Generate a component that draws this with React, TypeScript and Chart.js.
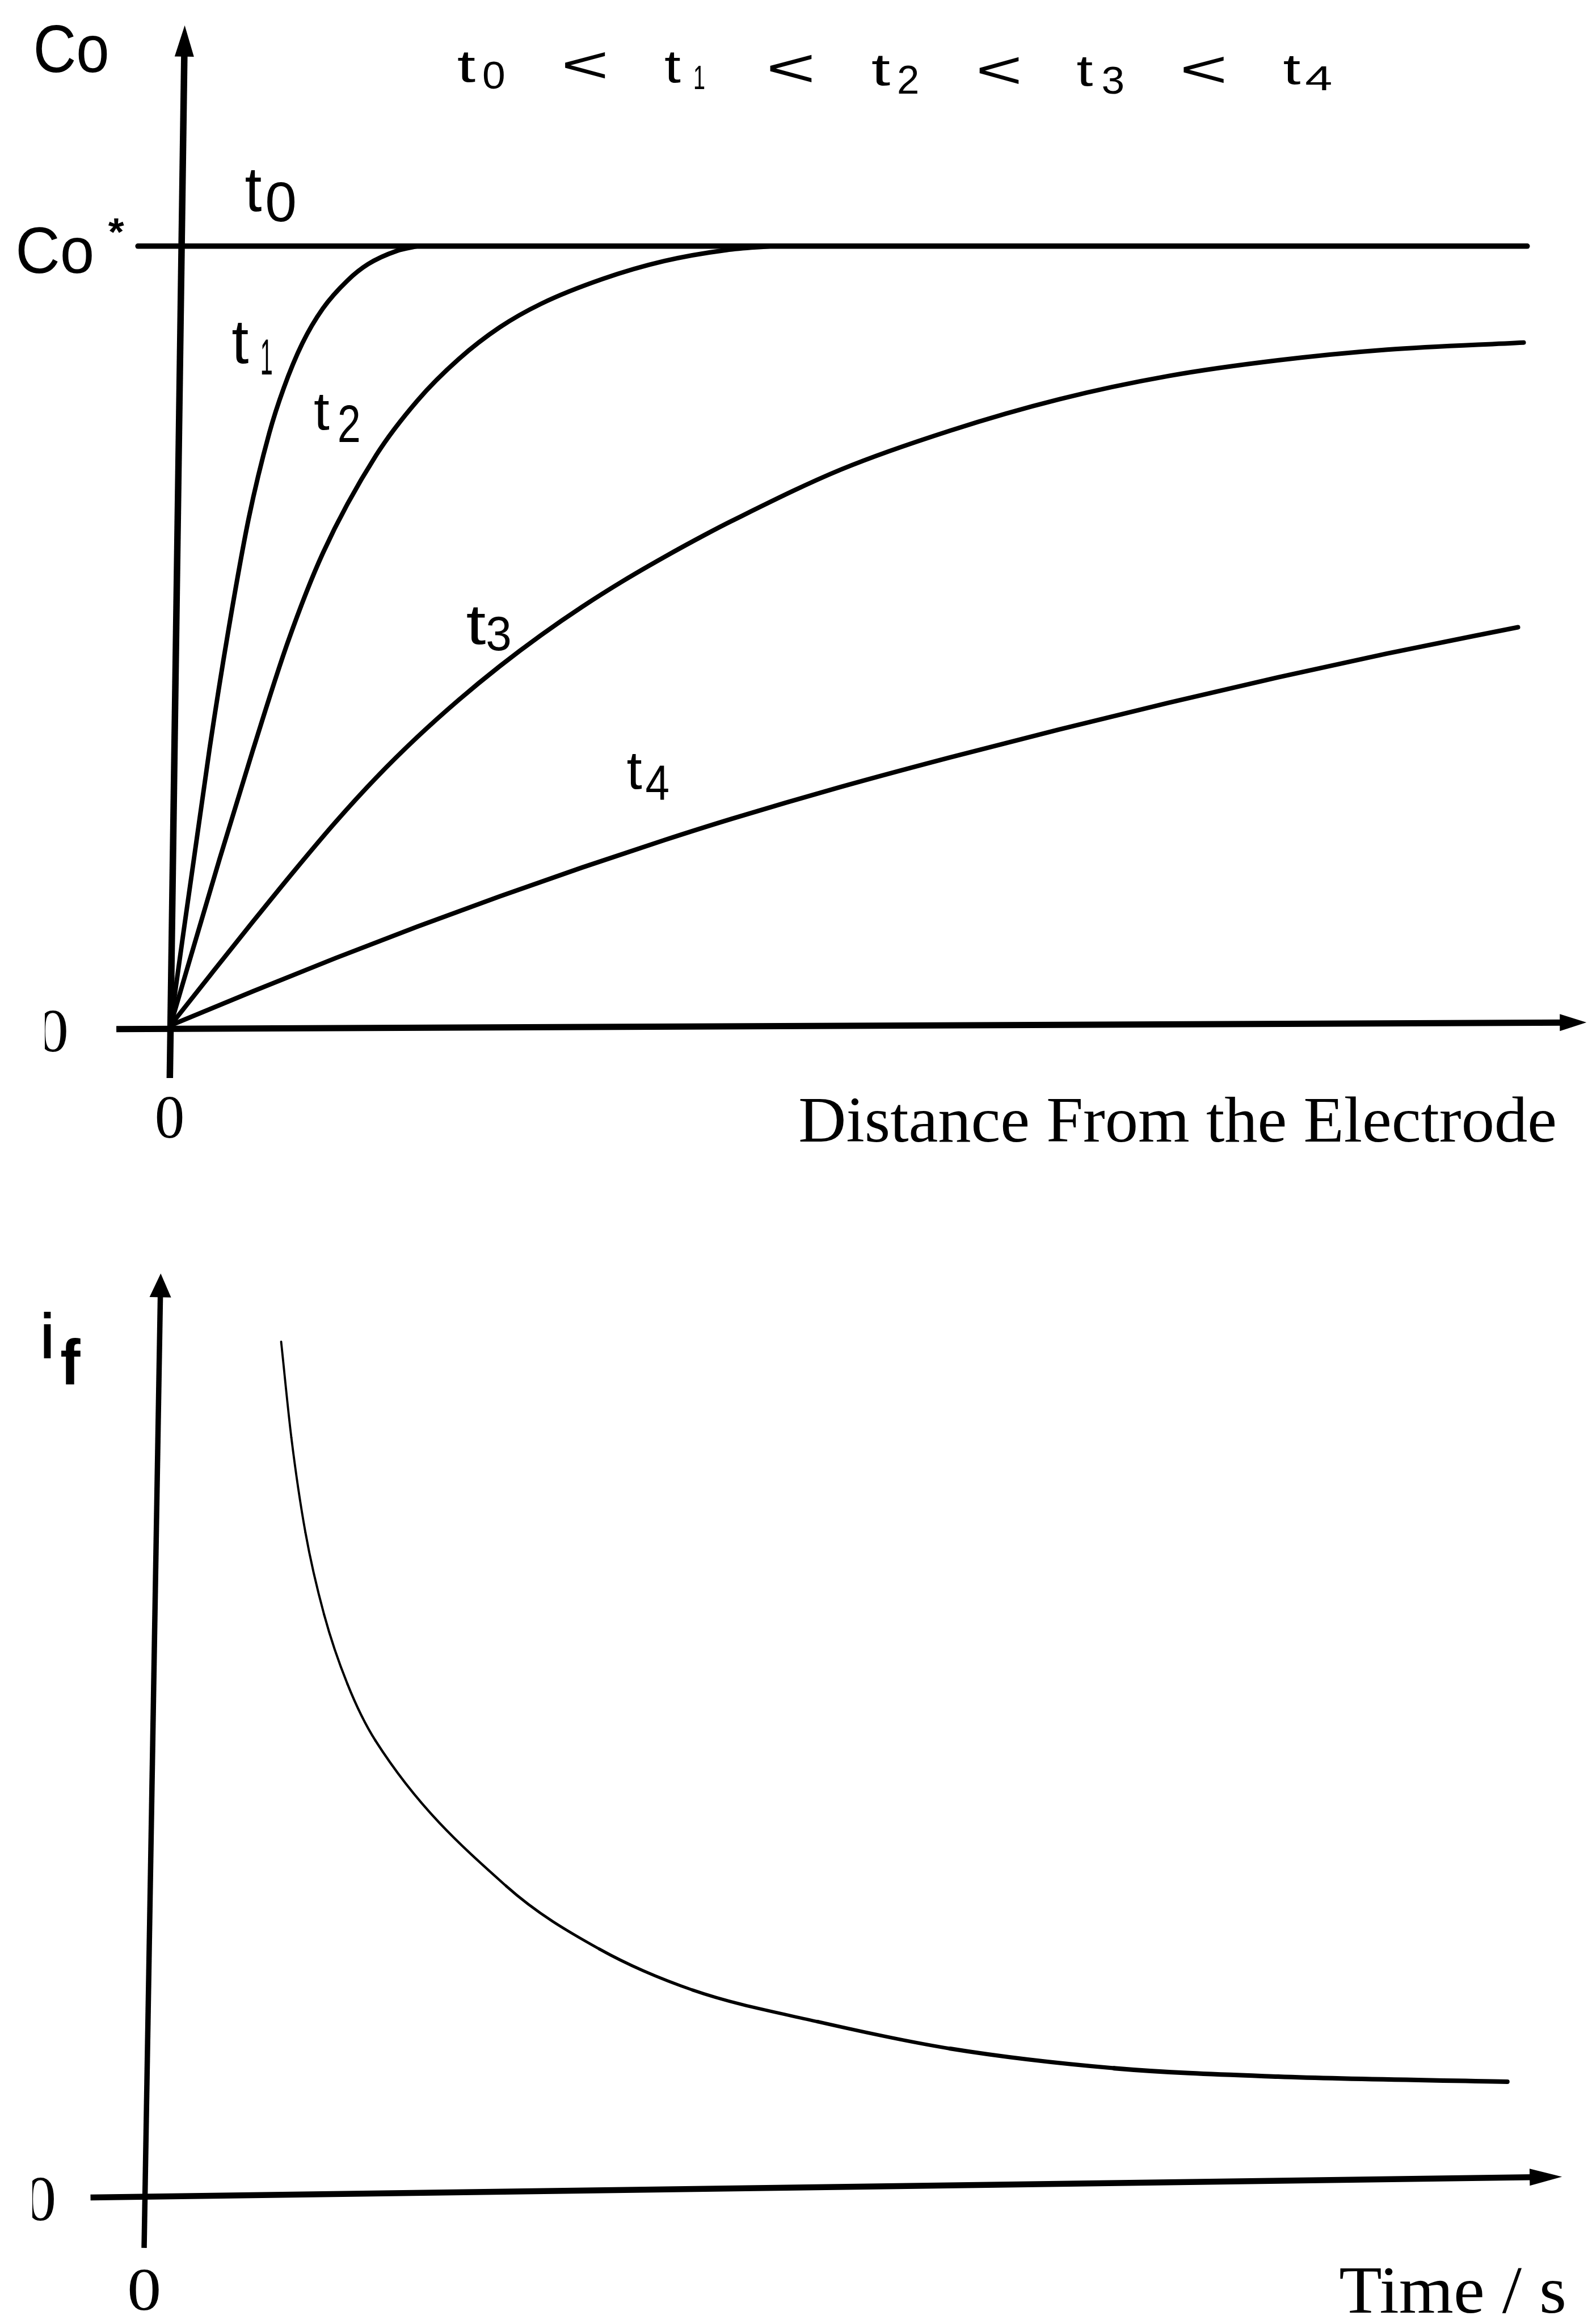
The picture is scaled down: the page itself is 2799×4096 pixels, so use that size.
import React, { useEffect, useRef } from "react";
import { Chart, registerables } from "chart.js";

Chart.register(...registerables);

// ---- Concentration profiles (distance as fraction of plotted range, C / Co*) ----
const distanceT0 = [-0.024, 1.0];
const concT0 = [1, 1];

const distanceT1 = [0, 0.0288, 0.0425, 0.0577, 0.0728, 0.0835, 0.0971, 0.1123, 0.1305, 0.1457, 0.1669, 0.182];
const concT1 = [0, 0.355, 0.505, 0.651, 0.76, 0.818, 0.875, 0.92, 0.956, 0.977, 0.994, 1.0];

const distanceT2 = [0, 0.0361, 0.0607, 0.0865, 0.1123, 0.1517, 0.1821, 0.2124, 0.2428, 0.2731, 0.3187, 0.3642, 0.4097, 0.443];
const concT2 = [0, 0.213, 0.353, 0.492, 0.606, 0.732, 0.802, 0.855, 0.896, 0.926, 0.958, 0.981, 0.995, 1.0];

const distanceT3 = [0, 0.0303, 0.0607, 0.091, 0.1214, 0.1517, 0.1821, 0.2124, 0.2428, 0.2731, 0.3035, 0.3338, 0.3642, 0.3945, 0.4137, 0.4941, 0.5747, 0.6552, 0.7357, 0.8162, 0.8967, 0.9974];
const concT3 = [0, 0.0667, 0.133, 0.1978, 0.2604, 0.318, 0.3703, 0.4176, 0.4611, 0.5008, 0.5373, 0.5706, 0.6013, 0.6301, 0.6474, 0.7133, 0.7633, 0.8036, 0.8334, 0.8535, 0.8672, 0.8763];

const distanceT4 = [0, 0.0607, 0.1214, 0.1821, 0.2428, 0.3035, 0.3642, 0.4137, 0.4941, 0.5747, 0.6552, 0.7357, 0.8162, 0.8967, 0.9932];
const concT4 = [0, 0.0437, 0.0862, 0.1269, 0.1657, 0.2027, 0.2379, 0.2651, 0.3061, 0.344, 0.3798, 0.414, 0.4466, 0.4772, 0.511];

// ---- Faradaic current decay (time and current in relative units) ----
const timeValues = [0.1007, 0.1082, 0.1185, 0.1322, 0.1493, 0.1699, 0.2657, 0.3341, 0.4026, 0.4942, 0.5914, 0.7116, 0.8318, 1.0];
const currentValues = [1.0, 0.8883, 0.778, 0.6823, 0.6015, 0.5354, 0.3662, 0.2928, 0.245, 0.2082, 0.1768, 0.154, 0.1442, 0.1383];

// ---- Hand-drawn axis endpoints, in data units ----
const distanceAxisX = [-0.0399, 1.0437];
const distanceAxisY = [-0.0048, 0.0038];
const concAxisX = [-0.0005, 0.0105];
const concAxisY = [-0.0675, 1.2833];

const timeAxisX = [-0.0391, 1.0401];
const timeAxisY = [0.0035, 0.0276];
const currentAxisX = [0.0002, 0.0124];
const currentAxisY = [-0.0552, 1.0794];

const SANS = '"Liberation Sans", Arial, sans-serif';
const SERIF = '"Liberation Serif", "Times New Roman", serif';

type Label = { text: string; x: number; y: number; w: number; h: number; font: string; clipLeft?: number };

// Text is fitted to its ink box so the lettering keeps the drawn proportions.
function fitText(ctx: CanvasRenderingContext2D, l: Label) {
  ctx.save();
  ctx.font = l.font;
  ctx.textAlign = "left";
  ctx.textBaseline = "alphabetic";
  const m = ctx.measureText(l.text);
  const inkW = m.actualBoundingBoxLeft + m.actualBoundingBoxRight;
  const inkH = m.actualBoundingBoxAscent + m.actualBoundingBoxDescent;
  if (l.clipLeft !== undefined) {
    ctx.beginPath();
    ctx.rect(l.clipLeft, l.y - 20, l.x + l.w - l.clipLeft + 20, l.h + 40);
    ctx.clip();
  }
  ctx.translate(l.x, l.y);
  ctx.scale(l.w / inkW, l.h / inkH);
  ctx.fillStyle = "#000";
  ctx.fillText(l.text, m.actualBoundingBoxLeft, m.actualBoundingBoxAscent);
  ctx.restore();
}

function drawArrowAxis(
  ctx: CanvasRenderingContext2D,
  x0: number, y0: number, x1: number, y1: number,
  width: number, len: number, half: number
) {
  const a = Math.atan2(y1 - y0, x1 - x0);
  const c = Math.cos(a), s = Math.sin(a);
  ctx.save();
  ctx.strokeStyle = "#000";
  ctx.fillStyle = "#000";
  ctx.lineWidth = width;
  ctx.lineCap = "butt";
  ctx.beginPath();
  ctx.moveTo(x0, y0);
  ctx.lineTo(x1 - c * len * 0.6, y1 - s * len * 0.6);
  ctx.stroke();
  ctx.beginPath();
  ctx.moveTo(x1, y1);
  ctx.lineTo(x1 - c * len + s * half, y1 - s * len - c * half);
  ctx.lineTo(x1 - c * len - s * half, y1 - s * len + c * half);
  ctx.closePath();
  ctx.fill();
  ctx.restore();
}

const sub = (size: number) => `${size}px ${SANS}`;

const profileLabels: Label[] = [
  { text: "Co", x: 63.8, y: 42.6, w: 124.9, h: 85.2, font: `118px ${SANS}` },
  { text: "Co", x: 31.9, y: 399.3, w: 130.7, h: 82.3, font: `115px ${SANS}` },
  { text: "*", x: 190.8, y: 383.1, w: 28.7, h: 26.7, font: `bold 70px ${SANS}` },
  // ordering of the profile times
  { text: "t", x: 807.3, y: 92.8, w: 31.4, h: 52.3, font: sub(78) },
  { text: "0", x: 852.0, y: 107.1, w: 36.6, h: 49.7, font: sub(70) },
  { text: "<", x: 994.4, y: 91.7, w: 72.1, h: 46.8, font: sub(80) },
  { text: "t", x: 1172.4, y: 92.8, w: 28.0, h: 53.3, font: sub(78) },
  { text: "1", x: 1224.4, y: 116.6, w: 17.0, h: 40.0, font: sub(60) },
  { text: "<", x: 1355.8, y: 96.7, w: 74.8, h: 48.3, font: sub(80) },
  { text: "t", x: 1537.2, y: 99.3, w: 32.4, h: 51.5, font: sub(78) },
  { text: "2", x: 1584.0, y: 114.7, w: 33.4, h: 50.2, font: sub(70) },
  { text: "<", x: 1725.1, y: 100.4, w: 70.6, h: 47.6, font: sub(80) },
  { text: "t", x: 1898.9, y: 100.4, w: 28.0, h: 51.2, font: sub(78) },
  { text: "3", x: 1943.6, y: 115.5, w: 35.5, h: 50.4, font: sub(70) },
  { text: "<", x: 2084.7, y: 99.3, w: 72.4, h: 46.8, font: sub(80) },
  { text: "t", x: 2262.9, y: 98.5, w: 30.0, h: 50.2, font: sub(78) },
  { text: "4", x: 2301.6, y: 117.3, w: 44.7, h: 41.8, font: sub(62) },
  // curve labels
  { text: "t", x: 432.5, y: 300.5, w: 29.0, h: 72.2, font: sub(104) },
  { text: "0", x: 470.4, y: 321.4, w: 49.1, h: 69.8, font: sub(98) },
  { text: "t", x: 409.3, y: 569.5, w: 29.2, h: 71.6, font: sub(104) },
  { text: "1", x: 461.5, y: 598.5, w: 17.5, h: 61.4, font: sub(86) },
  { text: "t", x: 554.0, y: 695.2, w: 26.1, h: 62.7, font: sub(92) },
  { text: "2", x: 597.9, y: 713.5, w: 34.5, h: 65.3, font: sub(92) },
  { text: "t", x: 822.7, y: 1070.4, w: 32.7, h: 66.1, font: sub(96) },
  { text: "3", x: 859.0, y: 1085.9, w: 40.0, h: 60.9, font: sub(86) },
  { text: "t", x: 1105.5, y: 1329.7, w: 25.6, h: 60.9, font: sub(88) },
  { text: "4", x: 1138.4, y: 1350.1, w: 40.0, h: 60.9, font: sub(86) },
  // axis ticks and title
  { text: "0", x: 70.0, y: 1779.7, w: 46.8, h: 74.0, font: `106px ${SERIF}`, clipLeft: 79.0 },
  { text: "0", x: 276.8, y: 1933.1, w: 44.6, h: 72.7, font: `106px ${SERIF}` },
  { text: "Distance From the Electrode", x: 1410.4, y: 1931.5, w: 1329.7, h: 81.6, font: `112px ${SERIF}` },
];

const currentLabels: Label[] = [
  { text: "i", x: 76.8, y: 211.6, w: 13.1, h: 82.3, font: `bold 112px ${SANS}` },
  { text: "f", x: 107.1, y: 257.3, w: 35.0, h: 82.3, font: `bold 112px ${SANS}` },
  { text: "0", x: 48.1, y: 1738.5, w: 46.8, h: 75.8, font: `106px ${SERIF}`, clipLeft: 57.0 },
  { text: "0", x: 228.7, y: 1900.0, w: 50.9, h: 71.7, font: `106px ${SERIF}` },
  { text: "Time / s", x: 2362.5, y: 1896.4, w: 394.6, h: 80.5, font: `112px ${SERIF}` },
];

function axesPlugin(
  id: string,
  hAxis: [number[], number[]],
  vAxis: [number[], number[]],
  widths: [number, number],
  hArrow: [number, number],
  vArrow: [number, number],
  labels: Label[]
) {
  return {
    id,
    afterDraw(chart: any) {
      const ctx: CanvasRenderingContext2D = chart.ctx;
      const sx = chart.scales.x, sy = chart.scales.y;
      const px = (v: number) => sx.getPixelForValue(v);
      const py = (v: number) => sy.getPixelForValue(v);
      drawArrowAxis(ctx, px(hAxis[0][0]), py(hAxis[1][0]), px(hAxis[0][1]), py(hAxis[1][1]), widths[0], hArrow[0], hArrow[1]);
      drawArrowAxis(ctx, px(vAxis[0][0]), py(vAxis[1][0]), px(vAxis[0][1]), py(vAxis[1][1]), widths[1], vArrow[0], vArrow[1]);
      labels.forEach((l) => fitText(ctx, l));
    },
  };
}

const pts = (xs: number[], ys: number[]) => xs.map((x, i) => ({ x, y: ys[i] }));

const commonOptions = (padding: any, xr: [number, number], yr: [number, number]) => ({
  animation: false as const,
  responsive: false,
  maintainAspectRatio: false,
  devicePixelRatio: 1,
  layout: { padding },
  events: [],
  plugins: { legend: { display: false }, tooltip: { enabled: false } },
  scales: {
    x: { type: "linear" as const, min: xr[0], max: xr[1], display: false },
    y: { type: "linear" as const, min: yr[0], max: yr[1], display: false },
  },
  elements: {
    point: { radius: 0 },
    line: { borderColor: "#000", cubicInterpolationMode: "monotone" as const, borderCapStyle: "round" as const, borderJoinStyle: "round" as const },
  },
});

export default function App() {
  const topRef = useRef<HTMLCanvasElement>(null);
  const bottomRef = useRef<HTMLCanvasElement>(null);

  useEffect(() => {
    const profiles = new Chart(topRef.current!, {
      type: "line",
      data: {
        datasets: [
          { label: "t0", data: pts(distanceT0, concT0), borderWidth: 9.5, fill: false },
          { label: "t1", data: pts(distanceT1, concT1), borderWidth: 8, fill: false },
          { label: "t2", data: pts(distanceT2, concT2), borderWidth: 8, fill: false },
          { label: "t3", data: pts(distanceT3, concT3), borderWidth: 8, fill: false },
          { label: "t4", data: pts(distanceT4, concT4), borderWidth: 8, fill: false },
        ],
      },
      options: commonOptions({ left: 61.37, right: 11.55, top: 21.84, bottom: 155.4 }, [-0.1, 1.04], [-0.1, 1.3]) as any,
      plugins: [
        axesPlugin("profileAxes", [distanceAxisX, distanceAxisY], [concAxisX, concAxisY], [11, 11.5], [47, 15], [55, 17], profileLabels),
      ],
    });

    const current = new Chart(bottomRef.current!, {
      type: "line",
      data: {
        datasets: [
          {
            label: "i_f",
            data: pts(timeValues, currentValues),
            borderWidth: 6,
            fill: false,
            segment: {
              borderWidth: (c: any) => 3.8 + 4.2 * Math.min(1, Math.max(0, (c.p0.parsed.x - 0.1) / 0.6)),
            },
          } as any,
        ],
      },
      options: commonOptions({ left: 13.17, right: 22.03, top: 113.2, bottom: 66.3 }, [-0.1, 1.05], [-0.1, 1.1]) as any,
      plugins: [
        axesPlugin("currentAxes", [timeAxisX, timeAxisY], [currentAxisX, currentAxisY], [10.5, 9.5], [57, 15], [42, 19], currentLabels),
      ],
    });

    return () => {
      profiles.destroy();
      current.destroy();
    };
  }, []);

  return (
    <div style={{ position: "absolute", left: 0, top: 0, width: 2799, height: 4096, background: "#fff", overflow: "hidden" }}>
      <canvas ref={topRef} width={2799} height={2100} style={{ position: "absolute", left: 0, top: 0, width: 2799, height: 2100 }} />
      <canvas ref={bottomRef} width={2799} height={1996} style={{ position: "absolute", left: 0, top: 2100, width: 2799, height: 1996 }} />
    </div>
  );
}
